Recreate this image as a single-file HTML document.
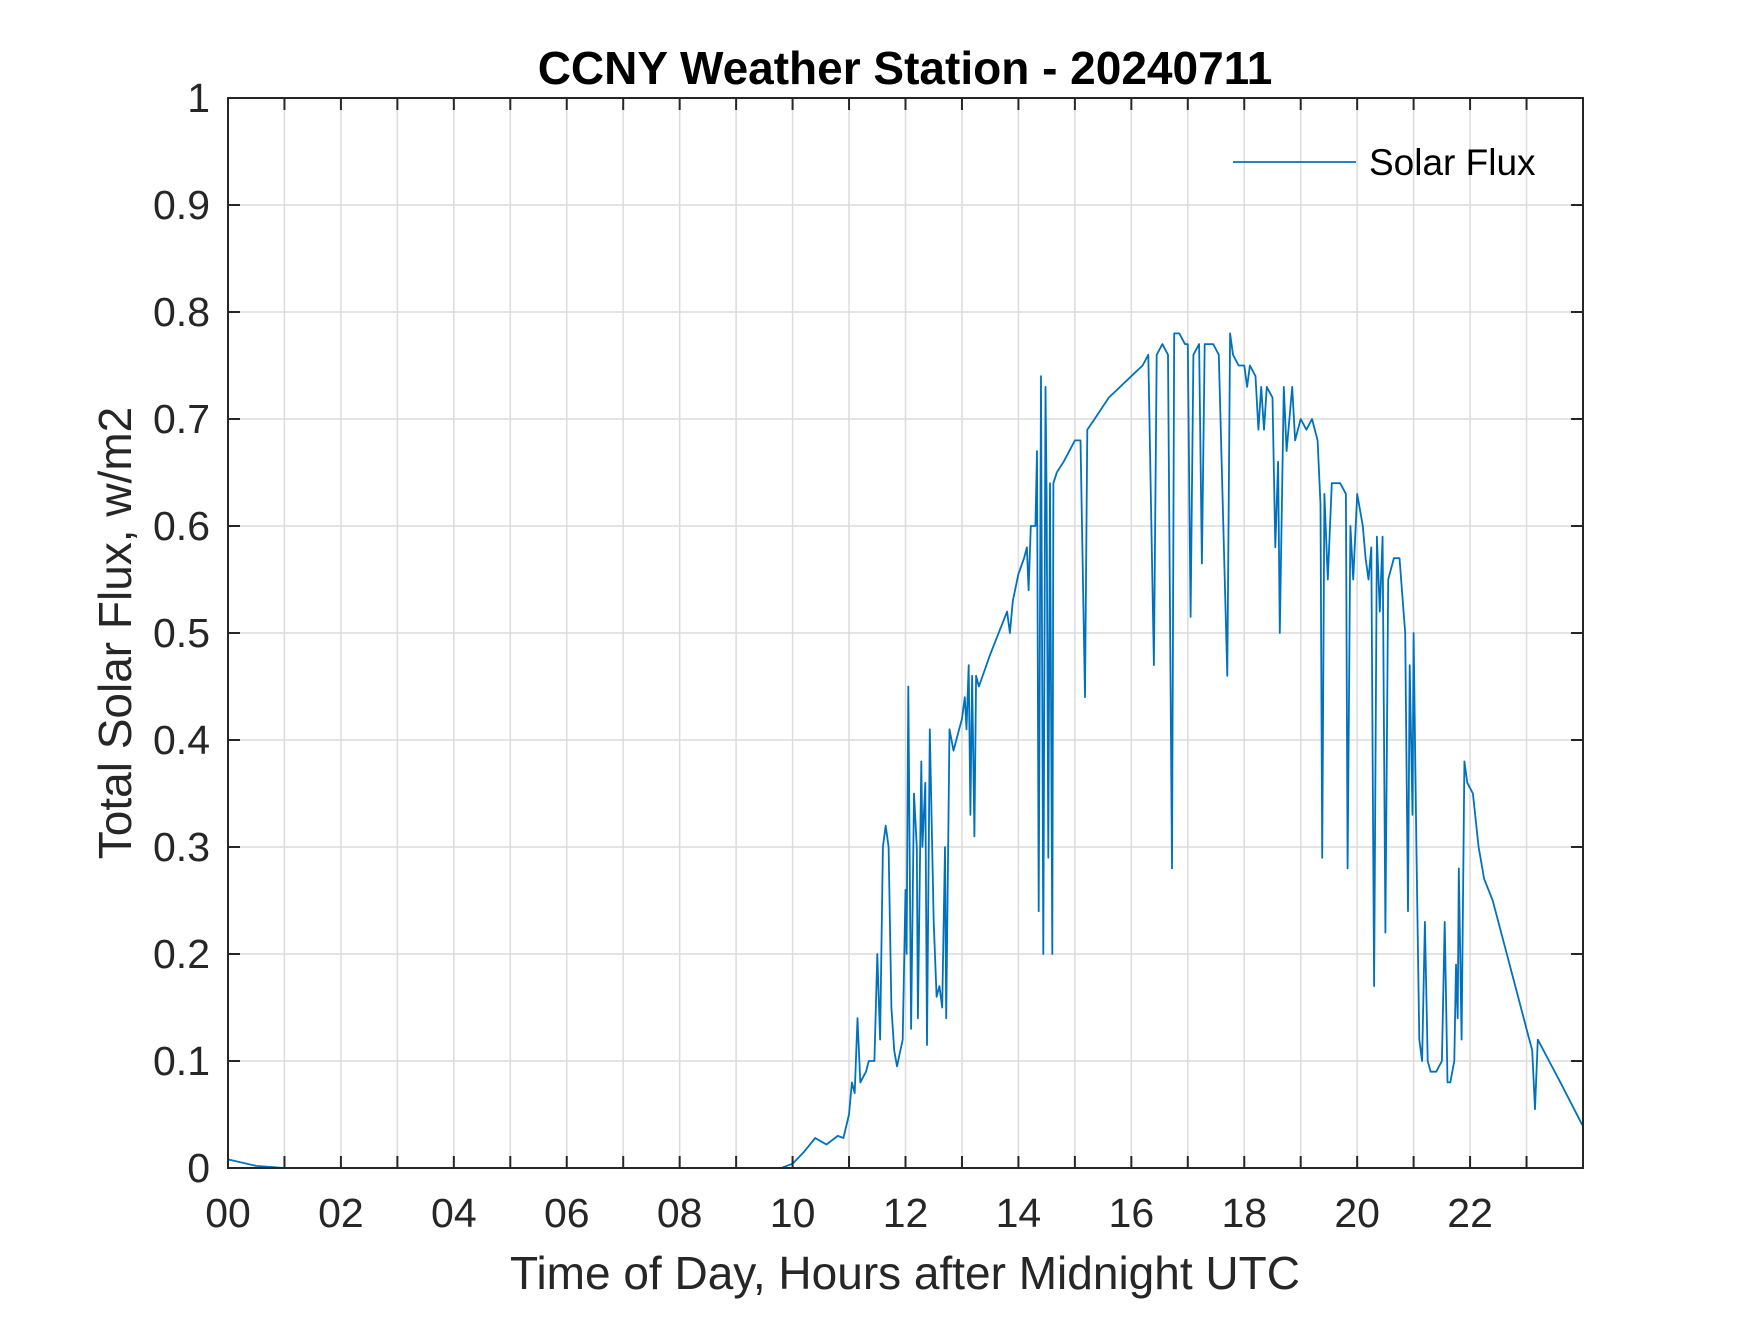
<!DOCTYPE html>
<html><head><meta charset="utf-8"><style>
body{margin:0;background:#fff;width:1750px;height:1313px;overflow:hidden}
text{font-family:"Liberation Sans",sans-serif;fill:#262626}
</style></head><body>
<svg id="chart" width="1750" height="1313" viewBox="0 0 1750 1313" xmlns="http://www.w3.org/2000/svg">
<rect width="1750" height="1313" fill="#fff"/>
<g id="grid"></g>
<g id="series"></g>
<g id="axes"></g>
<text x="905" y="84" text-anchor="middle" font-size="46" font-weight="bold" style="fill:#000">CCNY Weather Station - 20240711</text>
<text x="905" y="1289" text-anchor="middle" font-size="46">Time of Day, Hours after Midnight UTC</text>
<text transform="translate(131,633) rotate(-90)" text-anchor="middle" font-size="46">Total Solar Flux, w/m2</text>
<g>
<line x1="1233" y1="162" x2="1356" y2="162" stroke="#0072BD" stroke-width="1.8"/>
<text x="1369" y="175" font-size="37" style="fill:#000">Solar Flux</text>
</g>
</svg>
<script>
const hours=[0,0.5,1,2,4,6,8,9.8,10,10.2,10.4,10.5,10.6,10.8,10.9,11.0,11.05,11.1,11.15,11.2,11.3,11.35,11.45,11.5,11.55,11.6,11.65,11.7,11.75,11.8,11.85,11.95,12.0,12.02,12.05,12.1,12.15,12.2,12.22,12.28,12.3,12.35,12.38,12.43,12.5,12.55,12.6,12.65,12.7,12.72,12.78,12.85,12.9,13.0,13.05,13.08,13.12,13.15,13.18,13.22,13.25,13.3,13.5,13.8,13.85,13.9,14.0,14.1,14.15,14.18,14.22,14.3,14.33,14.36,14.4,14.44,14.48,14.5,14.53,14.56,14.6,14.62,14.68,14.8,15.0,15.1,15.18,15.22,15.35,15.6,16.0,16.2,16.3,16.4,16.45,16.55,16.65,16.72,16.76,16.85,16.95,17.0,17.05,17.1,17.2,17.25,17.3,17.45,17.55,17.7,17.75,17.8,17.9,18.0,18.05,18.1,18.2,18.25,18.3,18.35,18.4,18.5,18.55,18.6,18.63,18.7,18.75,18.85,18.9,19.0,19.1,19.2,19.3,19.35,19.38,19.42,19.48,19.55,19.7,19.8,19.83,19.88,19.93,20.0,20.1,20.15,20.2,20.25,20.3,20.35,20.4,20.45,20.5,20.55,20.65,20.75,20.85,20.9,20.93,20.98,21.0,21.05,21.1,21.15,21.2,21.25,21.3,21.4,21.5,21.55,21.6,21.65,21.72,21.75,21.78,21.8,21.85,21.9,21.95,22.05,22.15,22.25,22.4,22.6,22.8,23.0,23.1,23.15,23.2,23.4,23.6,23.99];
const flux=[0.008,0.002,0,0,0,0,0,0,0.004,0.015,0.028,0.025,0.022,0.03,0.028,0.05,0.08,0.07,0.14,0.08,0.09,0.1,0.1,0.2,0.12,0.3,0.32,0.3,0.15,0.11,0.095,0.12,0.26,0.2,0.45,0.13,0.35,0.3,0.14,0.38,0.3,0.36,0.115,0.41,0.23,0.16,0.17,0.15,0.3,0.14,0.41,0.39,0.4,0.42,0.44,0.41,0.47,0.33,0.46,0.31,0.46,0.45,0.48,0.52,0.5,0.53,0.555,0.57,0.58,0.54,0.6,0.6,0.67,0.24,0.74,0.2,0.73,0.63,0.29,0.64,0.2,0.64,0.65,0.66,0.68,0.68,0.44,0.69,0.7,0.72,0.74,0.75,0.76,0.47,0.76,0.77,0.76,0.28,0.78,0.78,0.77,0.77,0.515,0.76,0.77,0.565,0.77,0.77,0.76,0.46,0.78,0.76,0.75,0.75,0.73,0.75,0.74,0.69,0.73,0.69,0.73,0.72,0.58,0.66,0.5,0.73,0.67,0.73,0.68,0.7,0.69,0.7,0.68,0.62,0.29,0.63,0.55,0.64,0.64,0.63,0.28,0.6,0.55,0.63,0.6,0.57,0.55,0.58,0.17,0.59,0.52,0.59,0.22,0.55,0.57,0.57,0.5,0.24,0.47,0.33,0.5,0.3,0.12,0.1,0.23,0.1,0.09,0.09,0.1,0.23,0.08,0.08,0.1,0.19,0.14,0.28,0.12,0.38,0.36,0.35,0.3,0.27,0.25,0.21,0.17,0.13,0.11,0.055,0.12,0.1,0.08,0.04];
const xTicks=[0,2,4,6,8,10,12,14,16,18,20,22];
const xTickLabels=["00","02","04","06","08","10","12","14","16","18","20","22"];
const yTicks=[0,0.1,0.2,0.3,0.4,0.5,0.6,0.7,0.8,0.9,1];
const yTickLabels=["0","0.1","0.2","0.3","0.4","0.5","0.6","0.7","0.8","0.9","1"];
const L=228,R=1583,T=98,B=1168;
const xs=h=>L+(h/24)*(R-L);
const ys=v=>B-v*(B-T);
const NS="http://www.w3.org/2000/svg";
function mk(tag,attrs,parent){const e=document.createElementNS(NS,tag);for(const k in attrs)e.setAttribute(k,attrs[k]);parent.appendChild(e);return e;}
const grid=document.getElementById('grid'),axes=document.getElementById('axes'),series=document.getElementById('series');
for(let h=0;h<24;h++){const x=xs(h);
 const g=mk('line',{x1:x,x2:x,y1:T,y2:B,stroke:'#dcdcdc','stroke-width':1.5},grid);
 
 
 for(const [a,b] of [[B,B-12],[T,T+12]]){const t=mk('line',{x1:x,x2:x,y1:a,y2:b,stroke:'#262626','stroke-width':2},axes);
 
 }
}
xTicks.forEach((h,i)=>{const t=mk('text',{x:xs(h),y:1227,'text-anchor':'middle','font-size':41},axes);t.textContent=xTickLabels[i];
 
 });
yTicks.forEach((v,i)=>{const y=ys(v);
 const g=mk('line',{x1:L,x2:R,y1:y,y2:y,stroke:'#dcdcdc','stroke-width':1.5},grid);
 
 
 for(const [a,b] of [[L,L+12],[R,R-12]]){const t=mk('line',{x1:a,x2:b,y1:y,y2:y,stroke:'#262626','stroke-width':2},axes);
 
 }
 const t=mk('text',{x:210,y:y+14,'text-anchor':'end','font-size':41},axes);t.textContent=yTickLabels[i];
 
 });
const box=mk('rect',{x:L,y:T,width:R-L,height:B-T,fill:'none',stroke:'#262626','stroke-width':2},axes);


const pl=mk('polyline',{points:hours.map((h,i)=>xs(h).toFixed(1)+','+ys(flux[i]).toFixed(1)).join(' '),fill:'none',stroke:'#0072BD','stroke-width':1.8,'stroke-linejoin':'round'},series);


</script>
</body></html>
